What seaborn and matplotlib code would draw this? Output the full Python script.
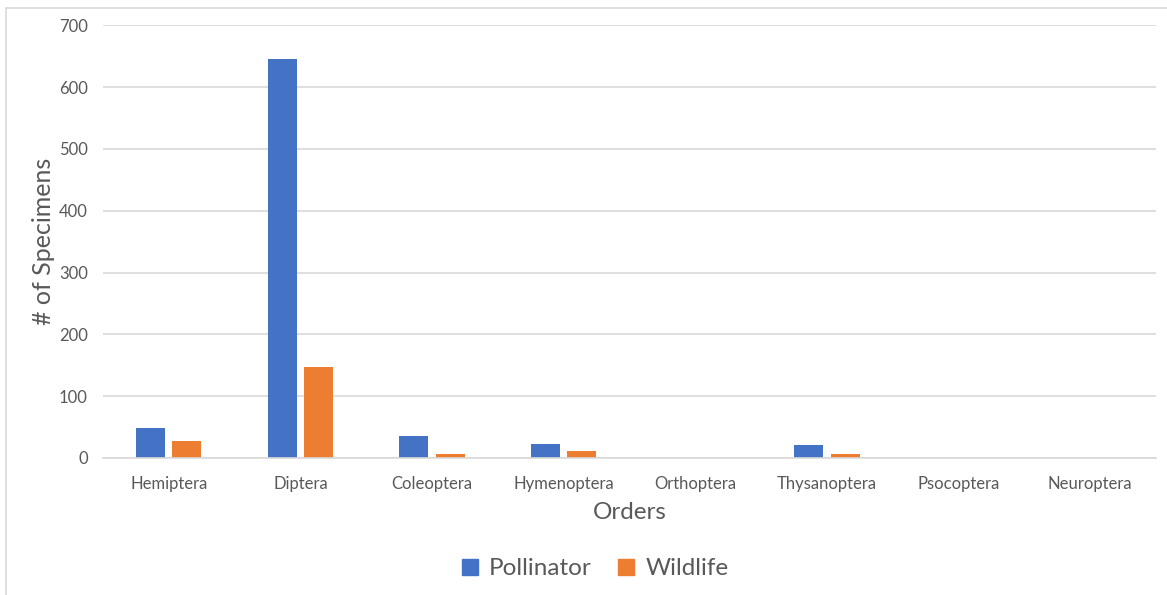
import matplotlib
matplotlib.use("Agg")
import matplotlib.pyplot as plt
import seaborn as sns
import pandas as pd
from matplotlib.lines import Line2D

orders = ["Hemiptera", "Diptera", "Coleoptera", "Hymenoptera", "Orthoptera",
          "Thysanoptera", "Psocoptera", "Neuroptera"]
pollinator = [49, 645, 35, 23, 0, 21, 0, 0]
wildlife = [28, 148, 6, 12, 0, 6, 0, 0]
series_names = ["Pollinator", "Wildlife"]
colors = ["#4472C4", "#ED7D31"]
yticks = [0, 100, 200, 300, 400, 500, 600, 700]

df = pd.DataFrame({
    "Order": orders * 2,
    "Count": pollinator + wildlife,
    "Series": [series_names[0]] * len(orders) + [series_names[1]] * len(orders),
})

sns.set_theme(style="white")
plt.rcParams["font.family"] = ["Lato", "DejaVu Sans"]

fig = plt.figure(figsize=(11.67, 5.95), dpi=100)
ax = fig.add_axes([103 / 1167, 1 - 458 / 595, (1156 - 103) / 1167, (458 - 25.3) / 595])

sns.barplot(data=df, x="Order", y="Count", hue="Series", order=orders,
            hue_order=series_names, palette=colors, width=0.55, gap=0.2,
            saturation=1, ax=ax, legend=False, edgecolor="none", linewidth=0)

ax.set_ylim(0, 700)
ax.set_yticks(yticks)
ax.set_xlim(-0.5, len(orders) - 0.5)
ax.yaxis.grid(True, color="#D9D9D9", linewidth=1.2)
ax.set_axisbelow(True)
for side in ["top", "right", "left"]:
    ax.spines[side].set_visible(False)
ax.spines["bottom"].set_color("#D9D9D9")
ax.spines["bottom"].set_linewidth(1.2)
ax.tick_params(axis="both", length=0, colors="#595959", labelsize=12)
ax.tick_params(axis="x", pad=13)
ax.tick_params(axis="y", pad=11)

ax.set_xlabel("Orders", fontsize=17.5, color="#595959", labelpad=7)
ax.set_ylabel("# of Specimens", fontsize=18, color="#595959", labelpad=3)

handles = [Line2D([], [], marker="s", linestyle="none", markersize=12,
                  markerfacecolor=c, markeredgecolor=c) for c in colors]
fig.legend(handles, series_names, loc="center", bbox_to_anchor=(0.508, 0.044),
           ncol=2, frameon=False, fontsize=17.5, labelcolor="#595959",
           handletextpad=0.3, columnspacing=0.9, handlelength=1.0)

# chart area border (left and top edges visible)
fig.add_artist(Line2D([6 / 1167, 6 / 1167], [0, 1 - 8 / 595], transform=fig.transFigure,
                      color="#D9D9D9", linewidth=1.2))
fig.add_artist(Line2D([6 / 1167, 1], [1 - 8 / 595, 1 - 8 / 595], transform=fig.transFigure,
                      color="#D9D9D9", linewidth=1.2))

fig.savefig("out.png", dpi=100, facecolor="white")
